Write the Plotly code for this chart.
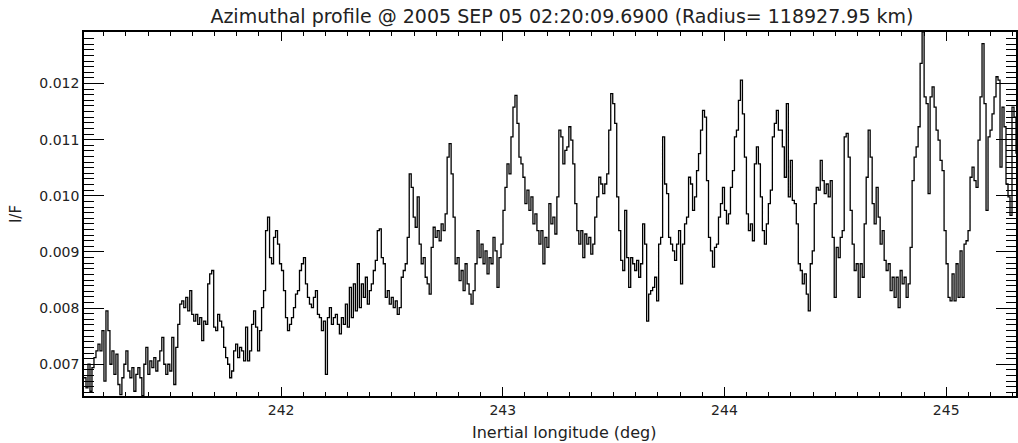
import numpy as np
import plotly.graph_objects as go

# I/F values, in five consecutive longitude segments
seg_lon = [(241.111, 241.966), (241.975, 242.803), (242.812, 243.640),
           (243.649, 244.477), (244.486, 245.315)]

if_seg1 = [0.00676, 0.00658, 0.00700, 0.00652, 0.00694, 0.00712, 0.00724, 0.00736, 0.00724, 0.00760,
           0.00670, 0.00795, 0.00760, 0.00700, 0.00724, 0.00682, 0.00718, 0.00664, 0.00646, 0.00676,
           0.00700, 0.00724, 0.00688, 0.00676, 0.00694, 0.00652, 0.00682, 0.00694, 0.00676, 0.00644,
           0.00700, 0.00730, 0.00682, 0.00706, 0.00694, 0.00712, 0.00688, 0.00706, 0.00724, 0.00748,
           0.00700, 0.00682, 0.00700, 0.00688, 0.00748, 0.00664, 0.00730, 0.00771, 0.00807, 0.00813,
           0.00801, 0.00819, 0.00795, 0.00831, 0.00789, 0.00777, 0.00789, 0.00771, 0.00783, 0.00742,
           0.00777, 0.00771, 0.00843, 0.00861, 0.00867, 0.00766, 0.00760, 0.00789, 0.00777, 0.00766,
           0.00730, 0.00712, 0.00700, 0.00676, 0.00688, 0.00724, 0.00736, 0.00712, 0.00730, 0.00724,
           0.00706, 0.00766, 0.00706, 0.00724, 0.00771, 0.00795, 0.00766, 0.00724, 0.00760, 0.00801,
           0.00831, 0.00938, 0.00962, 0.00890, 0.00879, 0.00926]

if_seg2 = [0.00938, 0.00914, 0.00879, 0.00867, 0.00831, 0.00783, 0.00760, 0.00771, 0.00783, 0.00801,
           0.00825, 0.00831, 0.00867, 0.00879, 0.00890, 0.00843, 0.00819, 0.00807, 0.00801, 0.00819,
           0.00831, 0.00789, 0.00783, 0.00760, 0.00777, 0.00682, 0.00783, 0.00801, 0.00771, 0.00783,
           0.00789, 0.00771, 0.00754, 0.00783, 0.00771, 0.00807, 0.00766, 0.00837, 0.00783, 0.00843,
           0.00795, 0.00879, 0.00801, 0.00843, 0.00819, 0.00855, 0.00807, 0.00831, 0.00843, 0.00867,
           0.00885, 0.00938, 0.00941, 0.00890, 0.00879, 0.00819, 0.00831, 0.00807, 0.00819, 0.00801,
           0.00813, 0.00789, 0.00801, 0.00855, 0.00867, 0.00879, 0.00926, 0.01039, 0.01015, 0.00962,
           0.00944, 0.00998, 0.00914, 0.00879, 0.00890, 0.00855, 0.00843, 0.00825, 0.00908, 0.00944,
           0.00926, 0.00938, 0.00920, 0.00950, 0.00938, 0.00968, 0.01069, 0.01093, 0.01039, 0.00962,
           0.00879, 0.00890, 0.00849]

if_seg3 = [0.00867, 0.00831, 0.00879, 0.00843, 0.00825, 0.00807, 0.00831, 0.00879, 0.00938, 0.00890,
           0.00914, 0.00879, 0.00902, 0.00861, 0.00890, 0.00879, 0.00926, 0.00902, 0.00837, 0.00890,
           0.00914, 0.00974, 0.01015, 0.01057, 0.01039, 0.01105, 0.01158, 0.01179, 0.01129, 0.01069,
           0.01057, 0.01033, 0.00986, 0.01010, 0.00974, 0.00998, 0.00950, 0.00968, 0.00938, 0.00914,
           0.00938, 0.00879, 0.00926, 0.00908, 0.00986, 0.00950, 0.00962, 0.00932, 0.00998, 0.01117,
           0.01105, 0.01057, 0.01081, 0.01087, 0.01123, 0.01099, 0.01057, 0.00986, 0.00938, 0.00914,
           0.00938, 0.00890, 0.00932, 0.00914, 0.00926, 0.00896, 0.00914, 0.00962, 0.00998, 0.01033,
           0.01021, 0.01004, 0.01021, 0.01039, 0.01117, 0.01182, 0.01164, 0.01129, 0.00998, 0.00938,
           0.00885, 0.00867, 0.00974, 0.00890, 0.00837, 0.00890, 0.00879, 0.00867, 0.00885, 0.00855,
           0.00879, 0.00950, 0.00914]

if_seg4 = [0.00777, 0.00825, 0.00831, 0.00837, 0.00855, 0.00813, 0.00914, 0.00926, 0.01105, 0.01021,
           0.01004, 0.00926, 0.00914, 0.00902, 0.00885, 0.00914, 0.00938, 0.00843, 0.00914, 0.00950,
           0.00962, 0.01033, 0.01021, 0.00974, 0.00998, 0.01045, 0.01075, 0.01117, 0.01152, 0.01140,
           0.01027, 0.00926, 0.00902, 0.00873, 0.00908, 0.00914, 0.00962, 0.00986, 0.01015, 0.00974,
           0.00950, 0.00968, 0.01015, 0.01045, 0.01105, 0.01117, 0.01170, 0.01206, 0.01146, 0.01069,
           0.00968, 0.00938, 0.00950, 0.00920, 0.01057, 0.01087, 0.01057, 0.00998, 0.00938, 0.00914,
           0.00950, 0.00986, 0.01010, 0.01105, 0.01129, 0.01152, 0.01117, 0.01117, 0.01087, 0.01033,
           0.01164, 0.00998, 0.01063, 0.00992, 0.00986, 0.00950, 0.00879, 0.00867, 0.00843, 0.00861,
           0.00825, 0.00795, 0.00879, 0.00902, 0.00986, 0.01015, 0.01010, 0.01063, 0.01027, 0.01004,
           0.01021, 0.00998, 0.01027]

if_seg5 = [0.00926, 0.00819, 0.00908, 0.00890, 0.00926, 0.00938, 0.01105, 0.01111, 0.01069, 0.00974,
           0.00914, 0.00867, 0.00879, 0.00819, 0.00879, 0.00855, 0.00950, 0.01033, 0.01117, 0.01069,
           0.00986, 0.00950, 0.01015, 0.00962, 0.00914, 0.00938, 0.00885, 0.00867, 0.00879, 0.00831,
           0.00855, 0.00819, 0.00855, 0.00801, 0.00867, 0.00843, 0.00855, 0.00819, 0.00843, 0.00908,
           0.01027, 0.01069, 0.01087, 0.01123, 0.01236, 0.01292, 0.01176, 0.01164, 0.01004, 0.01176,
           0.01194, 0.01158, 0.01117, 0.01099, 0.01063, 0.01045, 0.00938, 0.00879, 0.00819, 0.00813,
           0.00861, 0.00813, 0.00879, 0.00819, 0.00902, 0.00819, 0.00914, 0.00920, 0.00938, 0.01033,
           0.01051, 0.01027, 0.01015, 0.01099, 0.01176, 0.01271, 0.01164, 0.00974, 0.01105, 0.01117,
           0.01146, 0.01176, 0.01212, 0.01206, 0.01051, 0.01158, 0.01123, 0.01021, 0.00998, 0.00965,
           0.01158, 0.01140, 0.01075]

if_segments = [if_seg1, if_seg2, if_seg3, if_seg4, if_seg5]

x_range = [241.111, 245.315]
y_range = [0.006435, 0.012917]

title_text = "Azimuthal profile @ 2005 SEP 05 02:20:09.6900 (Radius= 118927.95 km)"
x_title = "Inertial longitude (deg)"
y_title = "I/F"

lon = np.concatenate([np.linspace(a, b, len(s)) for (a, b), s in zip(seg_lon, if_segments)])
iof = np.concatenate([np.array(s) for s in if_segments])

font = "DejaVu Sans"
txt = "#222222"
fig = go.Figure()
fig.add_trace(go.Scatter(x=lon, y=iof, mode="lines",
                         line=dict(color="black", width=1.3, shape="hv"),
                         showlegend=False, hoverinfo="skip"))
# invisible helper trace so the minor-tick overlay axes get drawn
fig.add_trace(go.Scatter(x=x_range, y=y_range, xaxis="x2", yaxis="y2", mode="markers",
                         marker=dict(opacity=0), showlegend=False, hoverinfo="skip"))

common = dict(showgrid=False, zeroline=False, ticks="inside", tickwidth=1,
              tickcolor="black", automargin=False)

fig.update_layout(
    width=1018, height=443,
    margin=dict(l=84, r=2, t=32, b=47),
    paper_bgcolor="white", plot_bgcolor="white",
    title=dict(text=title_text, x=0.552, xanchor="center", y=0.962, yanchor="middle",
               font=dict(family=font, size=19, color=txt)),
    xaxis=dict(range=x_range, tickmode="linear", tick0=242, dtick=1, tickformat="d",
               ticklen=9, showline=True, linecolor="black", linewidth=1.5,
               mirror="ticks", tickfont=dict(family=font, size=14, color=txt), **common),
    yaxis=dict(range=y_range, tickmode="linear", tick0=0.007, dtick=0.001, tickformat=".3f",
               ticklen=20, showline=True, linecolor="black", linewidth=1.5,
               mirror="ticks", tickfont=dict(family=font, size=14, color=txt),
               title=dict(text=y_title, font=dict(family=font, size=15, color=txt), standoff=14),
               **common),
    xaxis2=dict(range=x_range, overlaying="x", anchor="y2", side="bottom",
                tickmode="linear", tick0=242, dtick=0.1, ticklen=4,
                showticklabels=False, showline=False, mirror="ticks", **common),
    yaxis2=dict(range=y_range, overlaying="y", anchor="x2", side="left",
                tickmode="linear", tick0=0.007, dtick=0.0001, ticklen=10,
                showticklabels=False, showline=False, mirror="ticks", **common),
    annotations=[dict(text=x_title, xref="paper", yref="paper", x=0.515, y=-0.099,
                      xanchor="center", yanchor="middle", showarrow=False,
                      font=dict(family=font, size=16, color=txt))],
)

fig.write_html("out.html", config={"displayModeBar": False},
               post_script="document.body.style.margin='0';document.body.style.overflow='hidden';")
